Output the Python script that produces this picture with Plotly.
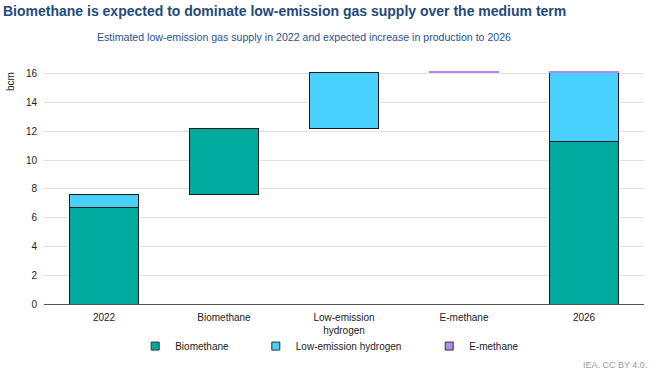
import plotly.graph_objects as go

categories = ["2022", "Biomethane", "Low-emission<br>hydrogen", "E-methane", "2026"]
biomethane = [6.7, 4.6, 0, 0, 11.3]
hydrogen = [0.9, 0, 3.9, 0, 4.8]
emethane = [0, 0, 0, 0.05, 0.05]
y_ticks = [0, 2, 4, 6, 8, 10, 12, 14, 16]

series_names = ["Biomethane", "Low-emission hydrogen", "E-methane"]
series_colors = ["#00aa9f", "#48d0ff", "#b08cf0"]
edge_colors = ["#1a1a1a", "#1a1a1a", "#b08cf0"]

# Waterfall: invisible base for the step columns
totals = [b + h + e for b, h, e in zip(biomethane, hydrogen, emethane)]
base = [0.0] * len(categories)
running = totals[0]
for i in range(1, len(categories) - 1):
    base[i] = running
    running += totals[i]

FONT = "Liberation Sans, Arial, sans-serif"

fig = go.Figure()
fig.add_trace(go.Bar(x=categories, y=base, marker=dict(color="rgba(0,0,0,0)", line=dict(width=0)),
                     showlegend=False, hoverinfo="skip"))
for name, vals, col, ec in zip(series_names, [biomethane, hydrogen, emethane], series_colors, edge_colors):
    fig.add_trace(go.Bar(x=categories, y=[v if v else None for v in vals], name=name, showlegend=False,
                         marker=dict(color=col, line=dict(color=ec, width=1))))

legend_ids = ["legend", "legend2", "legend3"]
legend_x = [0.152, 0.353, 0.642]
for name, col, lid in zip(series_names, series_colors, legend_ids):
    fig.add_trace(go.Scatter(x=[None], y=[None], mode="markers", name=name, legend=lid,
                             marker=dict(symbol="square", size=8, color=col,
                                         line=dict(color="#333333", width=1))))

leg_common = dict(orientation="h", yanchor="middle", y=-0.176, xanchor="left",
                  font=dict(family=FONT, size=10, color="#222222"), bgcolor="rgba(0,0,0,0)")
layout_legends = {}
for lid, lx in zip(legend_ids, legend_x):
    layout_legends[lid] = dict(leg_common, x=lx)

fig.update_layout(
    width=653, height=374,
    margin=dict(l=44, r=9, t=65, b=70),
    barmode="stack", bargap=0.43,
    plot_bgcolor="white", paper_bgcolor="white",
    font=dict(family=FONT, size=10, color="#222222"),
    title=dict(text="<b>Biomethane is expected to dominate low-emission gas supply over the medium term</b>",
               x=3 / 653, xanchor="left", xref="container", y=1 - 11 / 374, yanchor="middle", yref="container",
               font=dict(family=FONT, size=14, color="#1f4a7c")),
    xaxis=dict(showline=True, linecolor="#555555", linewidth=1, ticks="", showgrid=False,
               ticklabelstandoff=4,
               tickfont=dict(family=FONT, size=10, color="#222222")),
    yaxis=dict(range=[0, 16.6], tickvals=y_ticks, showgrid=True, gridcolor="#e2e2e2", gridwidth=1,
               zeroline=False, ticks="", ticklabelstandoff=6,
               tickfont=dict(family=FONT, size=10, color="#222222")),
    annotations=[
        dict(text="Estimated low-emission gas supply in 2022 and expected increase in production to 2026",
             xref="paper", yref="paper", x=(303.5 - 44) / 600, y=(304 - 37) / 239,
             xanchor="center", yanchor="middle", showarrow=False,
             font=dict(family=FONT, size=10.6, color="#2b5191")),
        dict(text="bcm", textangle=-90, xref="paper", yref="paper", x=(10 - 44) / 600, y=(304 - 82) / 239,
             xanchor="center", yanchor="middle", showarrow=False,
             font=dict(family=FONT, size=10, color="#222222")),
        dict(text="IEA. CC BY 4.0.", xref="paper", yref="paper", x=(649 - 44) / 600, y=(304 - 365) / 239,
             xanchor="right", yanchor="middle", showarrow=False,
             font=dict(family=FONT, size=9, color="#9a9a9a")),
    ],
    **layout_legends,
)

fig.write_html("out.html", config={"displayModeBar": False},
               post_script="document.body.style.margin='0px';")
